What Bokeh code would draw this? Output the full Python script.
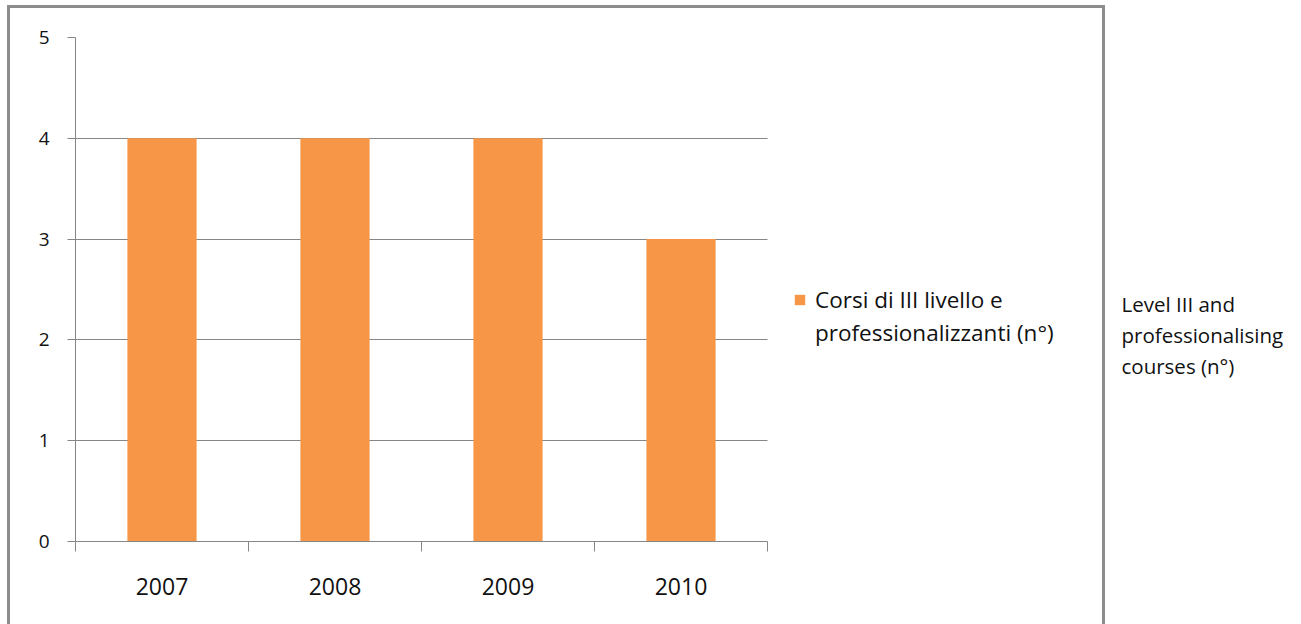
from bokeh.plotting import figure
from bokeh.models import (ColumnDataSource, FixedTicker, Legend, LegendItem,
                          Range1d, InlineStyleSheet, Label)
from bokeh.embed import file_html
from bokeh.resources import INLINE

years = ["2007", "2008", "2009", "2010"]
courses = [4, 4, 4, 3]
y_ticks = [0, 1, 2, 3, 4, 5]
series_label_lines = ["Corsi di III livello e", "professionalizzanti (n°)"]
side_note = "Level III and\nprofessionalising\ncourses (n°)"

FONT = "Open Sans"
GRAY = "#868686"

n = len(years)
xpos = [i + 0.5 for i in range(n)]
src = ColumnDataSource(dict(x=xpos, top=courses, year=years))

frame_css = InlineStyleSheet(css="""
:host::after {
  content: "";
  position: absolute;
  left: 7px; top: 5px;
  width: 1092px; height: 700px;
  border: 3px solid #8c8c8c;
  pointer-events: none;
}
""")

# plot area for the bars spans 692 px; the frame continues to the right edge
# so that legend and note are not clipped
x_end = n * (1301 - 75) / 692.0
p = figure(width=1301, height=624, output_backend="svg", toolbar_location=None,
           x_range=Range1d(0, x_end), y_range=Range1d(0, 5),
           min_border_left=75, min_border_right=0, min_border_top=37,
           min_border_bottom=83, stylesheets=[frame_css])
p.background_fill_color = "white"
p.border_fill_color = "white"
p.outline_line_color = None

r = p.vbar(x="x", top="top", width=0.4, bottom=0, source=src,
           fill_color="#F79646", line_color=None)
blank = p.scatter(x=[], y=[], size=0, fill_alpha=0, line_alpha=0)

xa = p.xaxis[0]
xa.bounds = (0, n)
xa.ticker = FixedTicker(ticks=xpos, minor_ticks=list(range(n + 1)))
xa.major_label_overrides = {x: y for x, y in zip(xpos, years)}
xa.major_tick_line_color = None
xa.major_tick_out = 0
xa.major_tick_in = 0
xa.minor_tick_line_color = GRAY
xa.minor_tick_out = 10
xa.minor_tick_in = 0
xa.axis_line_color = GRAY
xa.major_label_text_font = FONT
xa.major_label_text_font_size = "23px"
xa.major_label_text_color = "#111111"
xa.major_label_standoff = 26

ya = p.yaxis[0]
ya.ticker = FixedTicker(ticks=y_ticks)
ya.minor_tick_line_color = None
ya.major_tick_line_color = GRAY
ya.major_tick_out = 8
ya.major_tick_in = 0
ya.axis_line_color = GRAY
ya.major_label_text_font = FONT
ya.major_label_text_font_size = "19px"
ya.major_label_text_color = "#111111"
ya.major_label_standoff = 18

p.xgrid.grid_line_color = None
p.ygrid.ticker = FixedTicker(ticks=y_ticks)
p.ygrid.cross_bounds = (0, n)
p.ygrid.grid_line_color = GRAY
p.ygrid.grid_line_width = 1

legend = Legend(items=[LegendItem(label=series_label_lines[0], renderers=[r]),
                       LegendItem(label=series_label_lines[1], renderers=[blank])],
                location=(718, 193), orientation="vertical")
legend.border_line_color = None
legend.background_fill_alpha = 0
legend.padding = 0
legend.margin = 0
legend.spacing = 2
legend.glyph_width = 13
legend.glyph_height = 13
legend.label_standoff = 9
legend.label_text_font = FONT
legend.label_text_font_size = "22.5px"
legend.label_text_color = "#111111"
p.add_layout(legend, "center")

note = Label(x=1121, y=289, x_units="canvas", y_units="canvas", text=side_note,
             text_font=FONT, text_font_size="20.5px", text_color="#111111",
             text_line_height=1.12, text_baseline="top", text_align="left")
p.add_layout(note)

open("out.html", "w").write(file_html(p, INLINE))
